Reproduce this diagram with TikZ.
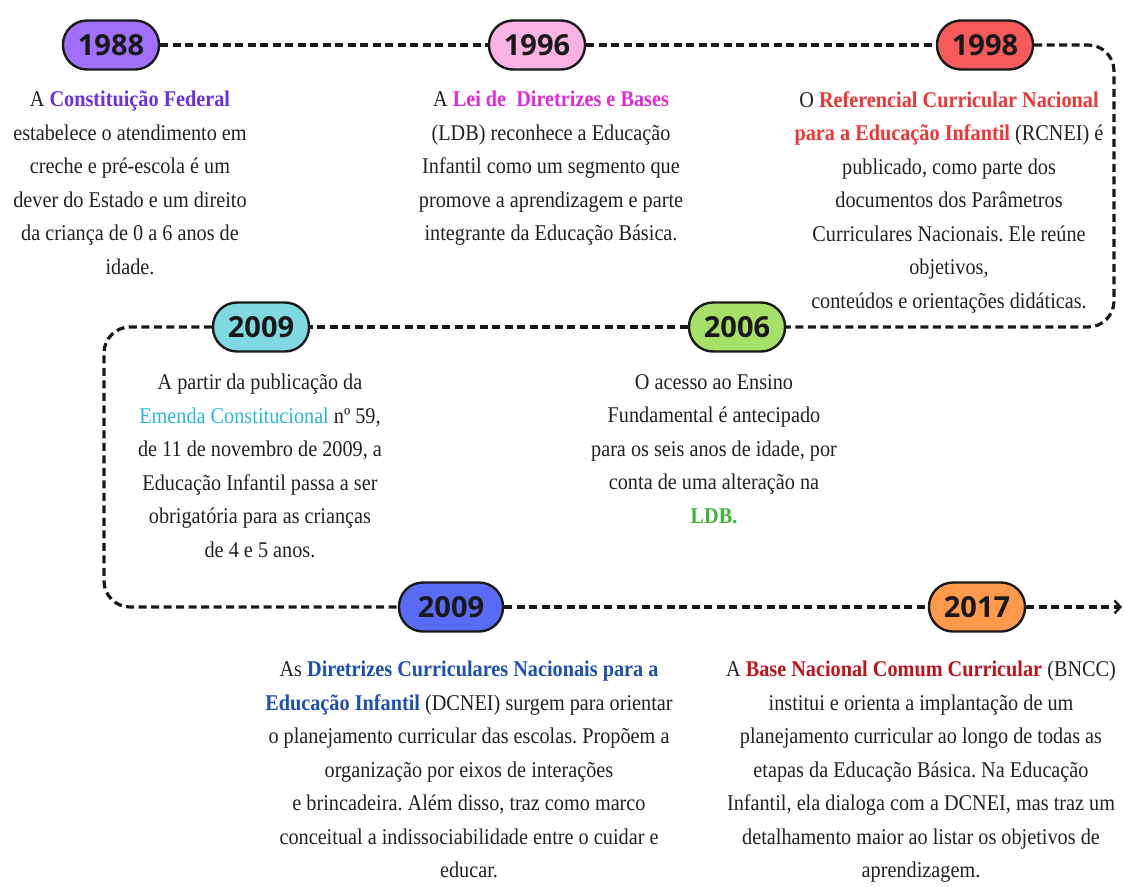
\documentclass[tikz,border=0pt]{standalone}
\usepackage{fontspec}
\setmainfont{Liberation Serif}[FakeStretch=0.9]
\newfontfamily\yearfont{Open Sans}
\usetikzlibrary{arrows.meta}
\frenchspacing
\definecolor{cA}{HTML}{6B2FE8}
\definecolor{cB}{HTML}{E22BD6}
\definecolor{cC}{HTML}{EE3636}
\definecolor{cD}{HTML}{2DB6D6}
\definecolor{cE}{HTML}{3DB53A}
\definecolor{cF}{HTML}{1F4FB0}
\definecolor{cG}{HTML}{BE1420}
\definecolor{pA}{HTML}{A070FA}
\definecolor{pB}{HTML}{F8B2E4}
\definecolor{pC}{HTML}{F65A5A}
\definecolor{pD}{HTML}{80D8E0}
\definecolor{pE}{HTML}{A6E068}
\definecolor{pF}{HTML}{5A6CF6}
\definecolor{pG}{HTML}{FF9A4C}
\definecolor{txt}{HTML}{222222}
\tikzset{
  pill/.style={draw=black!90, line width=2.4pt, rounded corners=24pt, minimum width=96pt, minimum height=49pt, inner sep=0pt, font=\yearfont\bfseries\fontsize{29}{29}\selectfont, text=black!90},
  desc/.style={align=center, inner sep=0pt, anchor=north, text=txt, font=\frenchspacing\fontsize{22.5}{33.5}\selectfont},
  tl/.style={line width=3.2pt, dash pattern=on 8pt off 4.5pt, black!90},
}
\begin{document}
\begin{tikzpicture}[x=1pt,y=-1pt]
\useasboundingbox (0,0) rectangle (1124,886);
\fill[white] (0,0) rectangle (1124,886);
% pills
\node[pill, fill=pA] (y1988) at (111,45) {1988};
\node[pill, fill=pB] (y1996) at (537,45) {1996};
\node[pill, fill=pC] (y1998) at (985,45) {1998};
\node[pill, fill=pD] (y2009a) at (261,327) {2009};
\node[pill, fill=pE] (y2006) at (737,327) {2006};
\node[pill, fill=pF, minimum width=104pt] (y2009b) at (451,607) {2009};
\node[pill, fill=pG] (y2017) at (977,607) {2017};
\coordinate (rt) at (1114,45);
\coordinate (rb) at (1114,327);
\coordinate (lt) at (104,327);
\coordinate (lb) at (104,607);
\coordinate (endp) at (1122,607);
% connectors
\draw[tl] (y1988.east) -- (y1996.west);
\draw[tl] (y1996.east) -- (y1998.west);
\draw[tl, rounded corners=26pt] (y1998.east) -- (rt) -- (rb) -- (y2006.east);
\draw[tl] (y2006.west) -- (y2009a.east);
\draw[tl, rounded corners=26pt] (y2009a.west) -- (lt) -- (lb) -- (y2009b.west);
\draw[tl] (y2009b.east) -- (y2017.west);
\draw[tl, -{Straight Barb[length=6pt,width=13pt,line width=2.4pt]}] (y2017.east) -- (endp);
% descriptions
\node[desc] (d1988) at (130,91) {A \textcolor{cA}{\bfseries Constituição Federal}\\ estabelece o atendimento em\\ creche e pré-escola é um\\ dever do Estado e um direito\\ da criança de 0 a 6 anos de\\ idade.};
\node[desc] (d1996) at (551,91) {A \textcolor{cB}{\bfseries Lei de\ \ Diretrizes e Bases}\\ (LDB) reconhece a Educação\\ Infantil como um segmento que\\ promove a aprendizagem e parte\\ integrante da Educação Básica.};
\node[desc] (d1998) at (949,91) {O \textcolor{cC}{\bfseries Referencial Curricular Nacional}\\ \textcolor{cC}{\bfseries para a Educação Infantil} (RCNEI) é\\ publicado, como parte dos\\ documentos dos Parâmetros\\ Curriculares Nacionais. Ele reúne\\ objetivos,\\ conteúdos e orientações didáticas.};
\node[desc] (d2009a) at (260,374) {A partir da publicação da\\ \textcolor{cD}{Emenda Constitucional} nº 59,\\ de 11 de novembro de 2009, a\\ Educação Infantil passa a ser\\ obrigatória para as crianças\\ de 4 e 5 anos.};
\node[desc] (d2006) at (714,374) {O acesso ao Ensino\\ Fundamental é antecipado\\ para os seis anos de idade, por\\ conta de uma alteração na\\ \textcolor{cE}{\bfseries LDB.}};
\node[desc] (d2009b) at (469,661) {As \textcolor{cF}{\bfseries Diretrizes Curriculares Nacionais para a}\\ \textcolor{cF}{\bfseries Educação Infantil} (DCNEI) surgem para orientar\\ o planejamento curricular das escolas. Propõem a\\ organização por eixos de interações\\ e brincadeira. Além disso, traz como marco\\ conceitual a indissociabilidade entre o cuidar e\\ educar.};
\node[desc] (d2017) at (921,661) {A \textcolor{cG}{\bfseries Base Nacional Comum Curricular} (BNCC)\\ institui e orienta a implantação de um\\ planejamento curricular ao longo de todas as\\ etapas da Educação Básica. Na Educação\\ Infantil, ela dialoga com a DCNEI, mas traz um\\ detalhamento maior ao listar os objetivos de\\ aprendizagem.};
\end{tikzpicture}
\end{document}
